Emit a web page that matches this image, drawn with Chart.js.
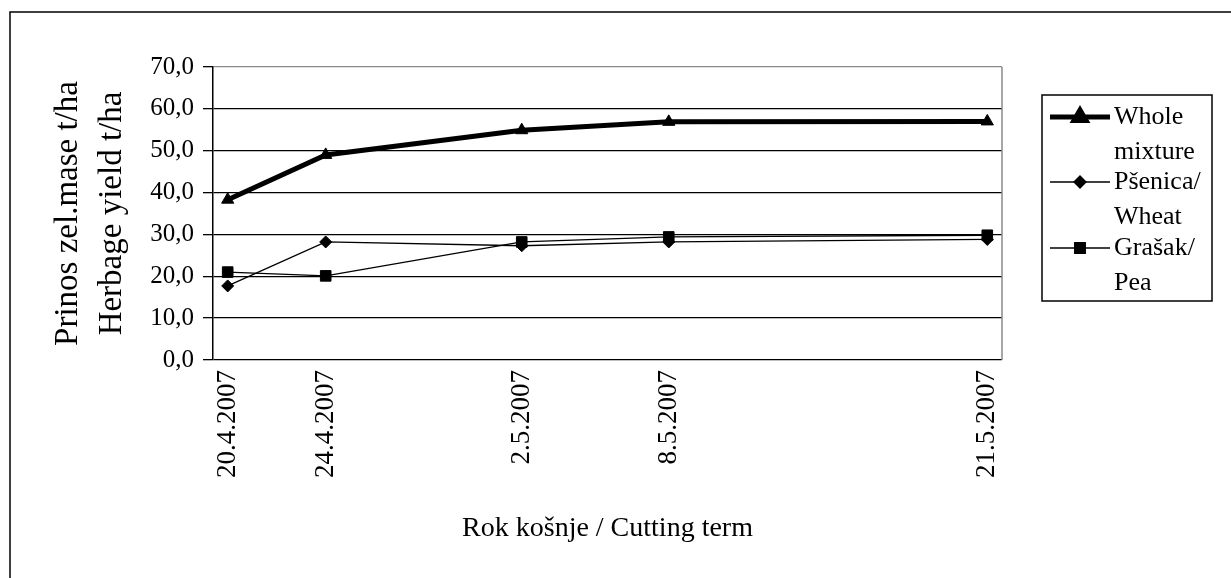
<!DOCTYPE html>
<html>
<head>
<meta charset="utf-8">
<script src="https://cdn.jsdelivr.net/npm/chart.js@4/dist/chart.umd.min.js"></script>
<style>
  html, body { margin: 0; padding: 0; background: #fff; }
  #wrap { width: 1231px; height: 578px; position: relative; }
</style>
</head>
<body>
<div id="wrap"><canvas id="c" width="1231" height="578"></canvas></div>
<script>
// ---- data ----
const categories = ['20.4.2007', '24.4.2007', '2.5.2007', '8.5.2007', '21.5.2007'];
const dayOffsets = [0, 4, 12, 18, 31]; // days after 20.4.2007
const wholeMixture = [38.3, 49.0, 54.9, 56.9, 57.0];
const wheat = [17.7, 28.2, 27.3, 28.2, 28.8];
const pea = [21.0, 20.1, 28.2, 29.4, 29.8];
const seriesNames = ['Whole mixture', 'Pšenica/ Wheat', 'Grašak/ Pea'];
const legendLines = [['Whole', 'mixture'], ['Pšenica/', 'Wheat'], ['Grašak/', 'Pea']];
const yTitle = ['Prinos zel.mase t/ha', 'Herbage yield t/ha'];
const xTitle = 'Rok košnje / Cutting term';

const FONT = "'Liberation Serif', 'Times New Roman', serif";

function pts(vals) { return vals.map((v, i) => ({ x: dayOffsets[i], y: v })); }

const frame = {
  id: 'frame',
  beforeDraw(chart) {
    const ctx = chart.ctx;
    ctx.save();
    ctx.fillStyle = '#fff';
    ctx.fillRect(0, 0, chart.width, chart.height);
    ctx.strokeStyle = '#000';
    ctx.lineWidth = 1.5;
    ctx.strokeRect(10, 12, 1400, 800);
    ctx.restore();
  },
  afterDatasetsDraw(chart) {},
  beforeDatasetsDraw(chart) {
    const a = chart.chartArea, ctx = chart.ctx;
    ctx.save();
    ctx.strokeStyle = '#8a8a8a';
    ctx.lineWidth = 1.5;
    ctx.beginPath();
    ctx.moveTo(a.right, a.top);
    ctx.lineTo(a.right, a.bottom);
    ctx.stroke();
    ctx.restore();
  }
};

const customLegend = {
  id: 'customLegend',
  afterDraw(chart) {
    const ctx = chart.ctx;
    const box = { l: 1042, t: 95, r: 1212, b: 301 };
    ctx.save();
    ctx.strokeStyle = '#000';
    ctx.lineWidth = 1.5;
    ctx.strokeRect(box.l, box.t, box.r - box.l, box.b - box.t);
    ctx.font = '26px ' + FONT;
    ctx.fillStyle = '#000';
    ctx.textBaseline = 'middle';
    ctx.textAlign = 'left';
    const rowY = [117, 182, 248];
    chart.data.datasets.forEach((ds, i) => {
      const y = rowY[i];
      ctx.strokeStyle = '#000';
      ctx.lineWidth = ds.borderWidth;
      ctx.beginPath();
      ctx.moveTo(1050, y);
      ctx.lineTo(1110, y);
      ctx.stroke();
      Chart.helpers.drawPoint(ctx, {
        pointStyle: ds.pointStyle, radius: ds.pointRadius, borderWidth: 1, rotation: 0
      }, 1080, y);
      ctx.fillStyle = '#000';
      ctx.fill();
      legendLines[i].forEach((t, k) => {
        ctx.fillText(t, 1114, y + k * 35);
      });
    });
    ctx.restore();
  }
};

const mkDs = (label, vals, width, style, radius) => ({
  label, data: pts(vals),
  borderColor: '#000', backgroundColor: '#000',
  borderWidth: width, tension: 0,
  pointStyle: style, pointRadius: radius, pointHoverRadius: radius,
  pointBackgroundColor: '#000', pointBorderColor: '#000', pointBorderWidth: 1
});

new Chart(document.getElementById('c'), {
  type: 'line',
  data: {
    datasets: [
      mkDs(seriesNames[0], wholeMixture, 5, 'triangle', 7),
      mkDs(seriesNames[1], wheat, 1.3, 'rectRot', 6),
      mkDs(seriesNames[2], pea, 1.3, 'rect', 7.5)
    ]
  },
  options: {
    responsive: false,
    animation: false,
    devicePixelRatio: 1,
    layout: { padding: { left: 0, top: 67, right: 229, bottom: 0 } },
    plugins: { legend: { display: false }, tooltip: { enabled: false } },
    scales: {
      x: {
        type: 'linear',
        min: -0.6, max: 31.6,
        afterBuildTicks: (s) => { s.ticks = dayOffsets.map(v => ({ value: v })); },
        afterFit: (s) => { s.height = 218; },
        grid: { display: false, drawTicks: false },
        border: { display: false },
        ticks: {
          autoSkip: false, minRotation: 90, maxRotation: 90, padding: 10,
          color: '#000', font: { family: FONT, size: 27 },
          callback: (v) => { const i = dayOffsets.indexOf(v); return i >= 0 ? categories[i] : ''; }
        },
        title: {
          display: true, text: xTitle, color: '#000',
          font: { family: FONT, size: 28, lineHeight: 1.2 },
          padding: { top: 0, bottom: 33 }
        }
      },
      y: {
        min: 0, max: 70,
        afterFit: (s) => { s.width = 213; },
        ticks: {
          stepSize: 10, padding: 9, color: '#000',
          font: { family: FONT, size: 25 },
          callback: (v) => Number(v).toFixed(1).replace('.', ',')
        },
        grid: {
          color: (c) => (c.tick && c.tick.value === 70 ? '#8a8a8a' : '#000'),
          tickColor: '#000', tickLength: 10, lineWidth: 1.3
        },
        border: { display: true, color: '#000', width: 1.5 },
        title: {
          display: true, text: yTitle, color: '#000',
          font: { family: FONT, size: 33, lineHeight: 1.333 },
          padding: { top: 46, bottom: 0 }
        }
      }
    }
  },
  plugins: [frame, customLegend]
});
</script>
</body>
</html>
